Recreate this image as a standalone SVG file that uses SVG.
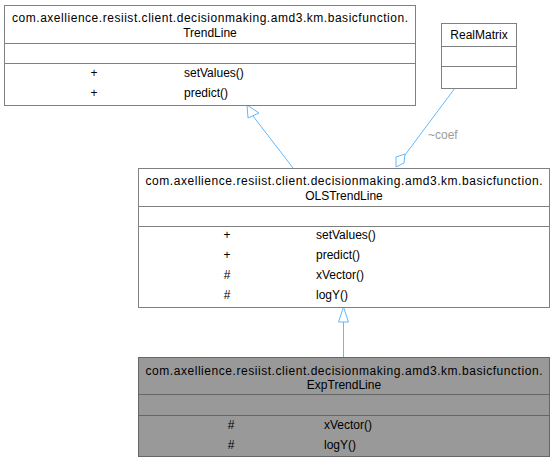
<svg xmlns="http://www.w3.org/2000/svg" width="555" height="463" viewBox="0 0 555 463">
<style>
text{font-family:"Liberation Sans",Arial,sans-serif;font-size:12px;fill:#000}
.c{text-anchor:middle}
.box{fill:#fff;stroke:#808080;stroke-width:1}
.sel{fill:#999;stroke:#666;stroke-width:1}
.sep{stroke:#808080;stroke-width:1}
.sep2{stroke:#666;stroke-width:1}
.edge{fill:none;stroke:#63b8ff;stroke-width:1}
.head{fill:#fff;stroke:#63b8ff;stroke-width:1}
.lbl{fill:#9a9a9a;font-size:12px}
</style>
<rect width="555" height="463" fill="#fff"/>
<g id="edges">
<line class="edge" x1="293" y1="168" x2="253" y2="116"/>
<polygon class="head" points="247,105 248,118 259,113"/>
<line class="edge" x1="455" y1="88" x2="405" y2="155"/>
<polygon class="head" points="396,167 404,163 405,154 396,157"/>
<text class="lbl" x="428" y="139">~coef</text>
<line class="edge" x1="343.5" y1="357" x2="343.5" y2="322"/>
<polygon class="head" points="343.5,307 338.5,322 348.5,322"/>
</g>
<g id="TrendLine">
<rect class="box" x="4.5" y="5.5" width="411" height="100"/>
<line class="sep" x1="4.5" y1="43.5" x2="415.5" y2="43.5"/>
<line class="sep" x1="4.5" y1="63.5" x2="415.5" y2="63.5"/>
<text class="c" x="210" y="22" textLength="396" lengthAdjust="spacing">com.axellience.resiist.client.decisionmaking.amd3.km.basicfunction.</text>
<text class="c" x="210" y="37">TrendLine</text>
<text class="c" x="94" y="77">+</text>
<text x="184" y="77">setValues()</text>
<text class="c" x="94" y="97">+</text>
<text x="184" y="97">predict()</text>
</g>
<g id="RealMatrix">
<rect class="box" x="441.5" y="23.5" width="75" height="65"/>
<line class="sep" x1="441.5" y1="46.5" x2="516.5" y2="46.5"/>
<line class="sep" x1="441.5" y1="66.5" x2="516.5" y2="66.5"/>
<text class="c" x="479" y="39">RealMatrix</text>
</g>
<g id="OLSTrendLine">
<rect class="box" x="138.5" y="168.5" width="411" height="139"/>
<line class="sep" x1="138.5" y1="206.5" x2="549.5" y2="206.5"/>
<line class="sep" x1="138.5" y1="226.5" x2="549.5" y2="226.5"/>
<text class="c" x="344" y="185" textLength="397" lengthAdjust="spacing">com.axellience.resiist.client.decisionmaking.amd3.km.basicfunction.</text>
<text class="c" x="344" y="200">OLSTrendLine</text>
<text class="c" x="227" y="239">+</text>
<text x="316" y="239">setValues()</text>
<text class="c" x="227" y="259">+</text>
<text x="316" y="259">predict()</text>
<text class="c" x="227" y="279">#</text>
<text x="316" y="279">xVector()</text>
<text class="c" x="227" y="299">#</text>
<text x="316" y="299">logY()</text>
</g>
<g id="ExpTrendLine">
<rect class="sel" x="138.5" y="357.5" width="411" height="99"/>
<line class="sep2" x1="138.5" y1="394.5" x2="549.5" y2="394.5"/>
<line class="sep2" x1="138.5" y1="415.5" x2="549.5" y2="415.5"/>
<text class="c" x="344" y="375" textLength="397" lengthAdjust="spacing">com.axellience.resiist.client.decisionmaking.amd3.km.basicfunction.</text>
<text class="c" x="344" y="389">ExpTrendLine</text>
<text class="c" x="231" y="429">#</text>
<text x="324" y="429">xVector()</text>
<text class="c" x="231" y="449">#</text>
<text x="324" y="449">logY()</text>
</g>
</svg>
